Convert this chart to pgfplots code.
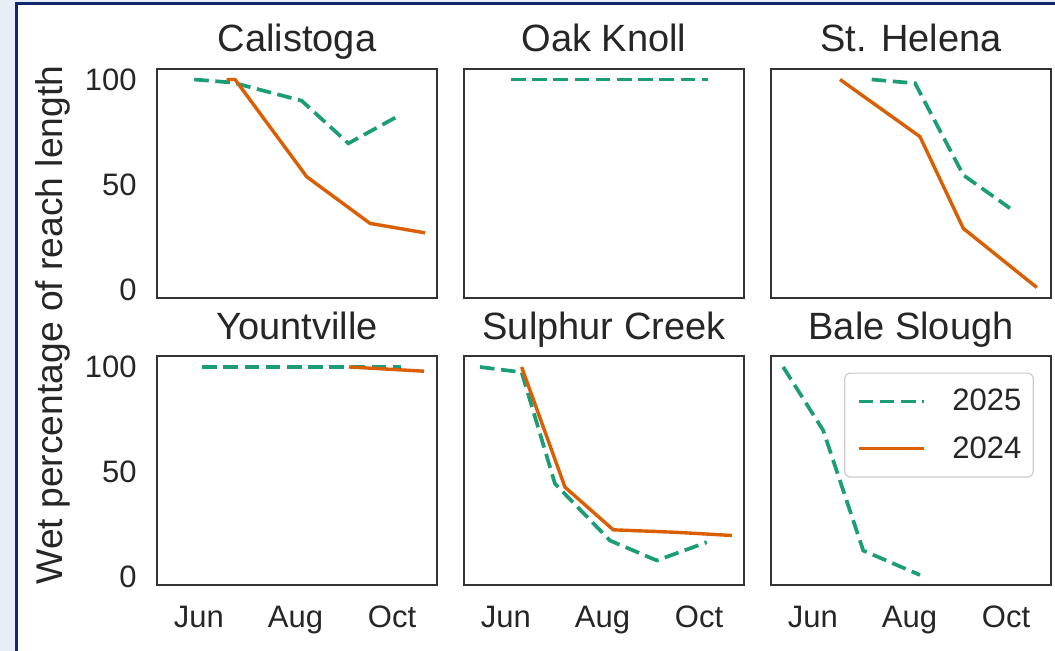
\documentclass[border=0pt]{standalone}
\usepackage{fontspec}
\setmainfont{Liberation Sans}
\usepackage{pgfplots}
\pgfplotsset{compat=1.18}
\definecolor{c25}{HTML}{1B9E77}
\definecolor{c24}{HTML}{D95F02}
\definecolor{axgray}{HTML}{333333}
\definecolor{txt}{HTML}{262626}
\definecolor{bgblue}{HTML}{E8EEF8}
\definecolor{navy}{HTML}{0E2A6C}
\definecolor{leggray}{HTML}{CCCCCC}

\pgfplotsset{
 every axis title shift=0pt,
 panel/.style={scale only axis, width=140pt, height=114.5pt,
   xmin=-26.5, xmax=150.4, ymin=-4, ymax=105,
   xtick={0,61,122}, xticklabels={Jun,Aug,Oct}, ytick={0,50,100},
   major tick length=0pt,
   axis line style={draw=axgray, line width=1pt},
   /pgf/number format/assume math mode=true,
   tick label style={font=\fontsize{15.5}{18}\selectfont, text=txt, inner sep=0pt},
   yticklabel style={anchor=east, xshift=-10pt},
   xticklabel style={anchor=north, yshift=-10pt},
   title style={font=\fontsize{19}{22}\selectfont, text=txt, at={(0.5,1)}, anchor=base, yshift=8.7pt, inner sep=0pt},
   anchor=north west},
 s25/.style={c25, line width=1.85pt, dash pattern=on 7.3pt off 3.3pt},
 s24/.style={c24, line width=1.7pt},
 notop/.style={xticklabels={}},
 noleft/.style={yticklabels={}},
}

\begin{document}
\begin{tikzpicture}
\fill[bgblue] (0,0) rectangle (527.5pt,325.5pt);
\begin{scope}
\clip (0,0) rectangle (527.5pt,325.5pt);
\filldraw[fill=white, draw=navy, line width=1.5pt] (8pt,-10pt) rectangle (540pt,323.5pt);
\end{scope}
\useasboundingbox (0,0) rectangle (527.5pt,325.5pt);

\node[rotate=90, anchor=base, font=\fontsize{18.6}{22}\selectfont, text=txt, inner sep=0pt] at (31pt,163pt) {Wet percentage of reach length};

% Calistoga
\begin{axis}[panel, notop, at={(78.5pt,291pt)}, title={Calistoga}]
\addplot[s25] coordinates {(-3,100) (21.5,98.5) (64.9,89.9) (94.4,69.6) (127.1,83.1)};
\addplot[s24] coordinates {(17.5,100) (22.8,100) (68.1,53.7) (108.1,31.5) (142.9,27.0)};
\end{axis}

% Oak Knoll
\begin{axis}[panel, notop, noleft, at={(232pt,291pt)}, title={Oak Knoll}]
\addplot[s25] coordinates {(3.2,100) (21.5,100) (64.9,100) (94.4,100) (127.9,100)};
\end{axis}

% St. Helena
\begin{axis}[panel, notop, noleft, at={(385.5pt,291pt)}, title={St. Helena}]
\addplot[s25] coordinates {(37.1,100) (64.5,98.2) (95,54.5) (124.5,38.7)};
\addplot[s24] coordinates {(17.1,100) (67.6,72.8) (95,29.1) (141.4,1)};
\end{axis}

% Yountville
\begin{axis}[panel, at={(78.5pt,147.25pt)}, title={Yountville}]
\addplot[s25] coordinates {(2.1,100) (21.5,100) (64.9,100) (94.4,100) (127.5,100)};
\addplot[s24] coordinates {(94.8,100) (142.2,98)};
\end{axis}

% Sulphur Creek
\begin{axis}[panel, noleft, at={(232pt,147.25pt)}, title={Sulphur Creek}]
\addplot[s25] coordinates {(-16.4,100) (9.9,97.5) (31,44.4) (65.7,17.4) (95.3,7.9) (126.9,16.6)};
\addplot[s24] coordinates {(9.9,100) (37.3,42.8) (67.8,22.5) (107.9,21.3) (142.7,19.8)};
\end{axis}

% Bale Slough
\begin{axis}[panel, noleft, at={(385.5pt,147.25pt)}, title={Bale Slough},
  legend style={at={(0.939,0.930)}, anchor=north east, draw=leggray, line width=0.6pt,
    rounded corners=3pt, fill=white, font=\fontsize{15.5}{18}\selectfont, text=txt,
    inner xsep=4pt, inner ysep=6pt, row sep=7.3pt},
  legend cell align=left,
  legend image code/.code={\draw[#1] (0pt,0pt) -- (32.5pt,0pt); \path (-2pt,0pt) (44pt,0pt);}]
\addplot[s25] coordinates {(-18.8,100) (6.5,69.8) (31.8,12.6) (67.6,1)};
\addlegendentry{2025}
\addlegendimage{s24}
\addlegendentry{2024}
\end{axis}
\end{tikzpicture}
\end{document}
